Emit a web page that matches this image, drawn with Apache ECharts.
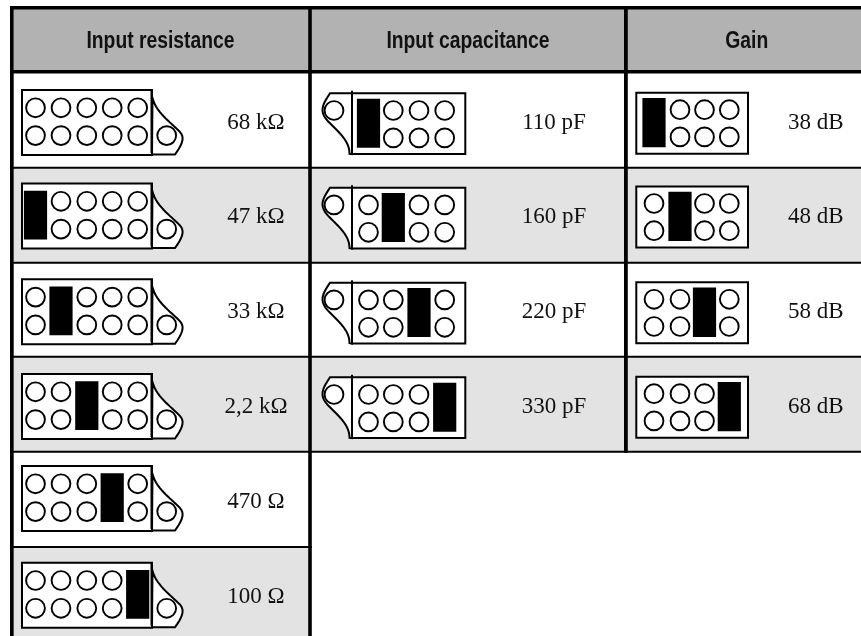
<!DOCTYPE html>
<html>
<head>
<meta charset="utf-8">
<style>html,body{margin:0;padding:0;background:#fff}#c{width:861px;height:636px}</style>
<script src="https://cdn.jsdelivr.net/npm/echarts@6/dist/echarts.min.js"></script>
</head>
<body>
<div id="c"></div>
<script>
// ---- table content (jumper = index of the bridged pin column, null = open) ----
const headers = ['Input resistance', 'Input capacitance', 'Gain'];
const resistanceLabels = ['68 kΩ', '47 kΩ', '33 kΩ', '2,2 kΩ', '470 Ω', '100 Ω'];
const resistanceJumper = [null, 0, 1, 2, 3, 4];
const capacitanceLabels = ['110 pF', '160 pF', '220 pF', '330 pF'];
const capacitanceJumper = [0, 1, 2, 3];
const gainLabels = ['38 dB', '48 dB', '58 dB', '68 dB'];
const gainJumper = [0, 1, 2, 3];

// ---- layout ----
const headerCenters = [160.5, 468, 746.8];
const valueCenters = [256, 554, 815.7];
const labelY = [122.5, 216.5, 312, 406.5, 501.5, 596.5];
const pinXs = [
  [35.5, 61, 86.8, 112.2, 137.7],
  [368.5, 393.3, 419, 444.7],
  [654, 680, 704.5, 729.3]
];
const blockTop = [
  [90, 183.5, 279.3, 374, 466, 562.7],
  [93.3, 187.7, 282.7, 377.3],
  [92.7, 186.5, 282.3, 376.7]
];
const blockH = [65, 60.8, 61];
const blockX = [[22, 152], [352, 465.3], [636.3, 748]];
const pinOffset = [[17.8, 45.6], [17.2, 44.6], [17, 44.2]];
const jumperOffset = [[7.2, 56], [5.4, 54.4], [5.3, 54.6]];
const gridBoxes = [
  // x0, y0, x1, y1, colour
  [14, 9, 861, 71, '#b2b2b2'],
  [14, 168, 861, 262, '#e3e3e3'],
  [14, 357, 861, 451, '#e3e3e3'],
  [14, 547, 310, 636, '#e3e3e3'],
  // rules
  [10, 6, 861, 9.6, '#000'],
  [10, 70, 861, 73.4, '#000'],
  [10, 166.8, 861, 168.8, '#000'],
  [10, 261.8, 861, 263.8, '#000'],
  [10, 355.8, 861, 357.8, '#000'],
  [10, 450.8, 861, 452.8, '#000'],
  [10, 546, 312, 548, '#000'],
  [10, 6, 13.7, 636, '#000'],
  [308.2, 6, 311.8, 636, '#000'],
  [624, 6, 627.8, 452.8, '#000']
];

function bez(p0, p1, p2, p3, n) {
  const out = [];
  for (let i = 0; i <= n; i++) {
    const t = i / n, u = 1 - t;
    out.push([
      u*u*u*p0[0] + 3*u*u*t*p1[0] + 3*u*t*t*p2[0] + t*t*t*p3[0],
      u*u*u*p0[1] + 3*u*u*t*p1[1] + 3*u*t*t*p2[1] + t*t*t*p3[1]
    ]);
  }
  return out;
}

const LW = 2;
const PIN_R = 9.4, PIN_LW = 1.9;
function diagram(col, row, jump, api) {
  const T = blockTop[col][row], B = T + blockH[col];
  const [L, R] = blockX[col];
  const P = p => api.coord(p);
  const stroke = { fill: 'none', stroke: '#000', lineWidth: LW };
  const kids = [];
  if (col === 0) {
    const pts = [[152.5, T + 8]]
      .concat(bez([152.5, T + 8], [156, T + 22], [170, T + 32], [178, T + 40], 14))
      .concat(bez([178, T + 40], [185, T + 46], [184, T + 52], [175, T + 64.5], 10))
      .concat([[152, T + 64.5]]);
    kids.push({ type: 'polygon', shape: { points: pts.map(P) }, style: { fill: '#fff', stroke: '#000', lineWidth: LW } });
  } else if (col === 1) {
    const pts = [[352, T], [330, T]]
      .concat(bez([330, T], [322, T + 12], [319, T + 18], [328, T + 28], 10))
      .concat(bez([328, T + 28], [340, T + 40], [349.5, T + 48], [349.5, T + 60.5], 14))
      .concat([[352, T + 60.8]]);
    kids.push({ type: 'polygon', shape: { points: pts.map(P) }, style: { fill: '#fff', stroke: '#000', lineWidth: LW } });
  }
  const tl = P([L, T]), br = P([R, B]);
  kids.push({ type: 'rect', shape: { x: tl[0], y: tl[1], width: br[0] - tl[0], height: br[1] - tl[1] },
    style: { fill: '#fff', stroke: '#000', lineWidth: LW } });
  if (col === 0) {
    kids.push({ type: 'line', shape: { x1: P([151.5, 0])[0], y1: P([0, T])[1], x2: P([151.5, 0])[0], y2: P([0, B - 2])[1] }, style: stroke });
  } else if (col === 1) {
    kids.push({ type: 'line', shape: { x1: P([352, 0])[0], y1: P([0, T - 2.5])[1], x2: P([352, 0])[0], y2: P([0, B])[1] }, style: stroke });
  }
  const xs = pinXs[col];
  const [o1, o2] = pinOffset[col];
  const pin = (x, y) => {
    const c = P([x, y]);
    kids.push({ type: 'circle', shape: { cx: c[0], cy: c[1], r: PIN_R }, style: { fill: '#fff', stroke: '#000', lineWidth: PIN_LW } });
  };
  xs.forEach((x, i) => {
    if (i === jump) return;
    pin(x, T + o1);
    pin(x, T + o2);
  });
  if (col === 0) pin(166.7, T + o2);
  else if (col === 1) pin(334, T + o1);
  if (jump !== null) {
    const a = P([xs[jump] - 11.6, T + jumperOffset[col][0]]);
    const b = P([xs[jump] + 11.6, T + jumperOffset[col][1]]);
    kids.push({ type: 'rect', shape: { x: a[0], y: a[1], width: b[0] - a[0], height: b[1] - a[1] }, style: { fill: '#000' } });
  }
  return { type: 'group', children: kids };
}

const diagramItems = [];
const labelItems = [];
[[resistanceLabels, resistanceJumper], [capacitanceLabels, capacitanceJumper], [gainLabels, gainJumper]].forEach((pair, col) => {
  pair[0].forEach((text, row) => {
    diagramItems.push({ value: [col, row, pair[1][row] === null ? -1 : pair[1][row]] });
    labelItems.push({ value: [valueCenters[col], labelY[row]], text: text });
  });
});
const headerItems = headers.map((h, i) => ({ value: [headerCenters[i], 42], text: h }));

const chart = echarts.init(document.getElementById('c'));
chart.setOption({
  animation: false,
  backgroundColor: '#fff',
  tooltip: { show: false },
  grid: { left: 0, right: 0, top: 0, bottom: 0 },
  xAxis: { type: 'value', min: 0, max: 861, show: false },
  yAxis: { type: 'value', min: 0, max: 636, inverse: true, show: false },
  series: [
    {
      type: 'custom', silent: true, clip: false, z: 1,
      data: gridBoxes.map(b => ({ value: b })),
      renderItem: (p, api) => {
        const b = gridBoxes[p.dataIndex];
        const a = api.coord([b[0], b[1]]), c = api.coord([b[2], b[3]]);
        return { type: 'rect', shape: { x: a[0], y: a[1], width: c[0] - a[0], height: c[1] - a[1] }, style: { fill: b[4] } };
      }
    },
    {
      type: 'custom', silent: true, clip: false, z: 2,
      data: diagramItems,
      renderItem: (p, api) => {
        const j = api.value(2);
        return diagram(api.value(0), api.value(1), j < 0 ? null : j, api);
      }
    },
    {
      type: 'custom', silent: true, clip: false, z: 3,
      data: labelItems,
      renderItem: (p, api) => {
        const c = api.coord([api.value(0), api.value(1)]);
        return { type: 'text', style: { text: labelItems[p.dataIndex].text, x: c[0], y: c[1], align: 'center', verticalAlign: 'middle',
          fontFamily: '"Liberation Serif", serif', fontSize: 23, fill: '#111' } };
      }
    },
    {
      type: 'custom', silent: true, clip: false, z: 3,
      data: headerItems,
      renderItem: (p, api) => {
        const c = api.coord([api.value(0), api.value(1)]);
        return { type: 'text', x: c[0], y: c[1], scaleX: 0.84, style: { text: headerItems[p.dataIndex].text, x: 0, y: 0, align: 'center', verticalAlign: 'middle',
          fontFamily: '"Liberation Sans", sans-serif', fontWeight: 'bold', fontSize: 23, fill: '#111' } };
      }
    }
  ]
});
</script>
</body>
</html>
